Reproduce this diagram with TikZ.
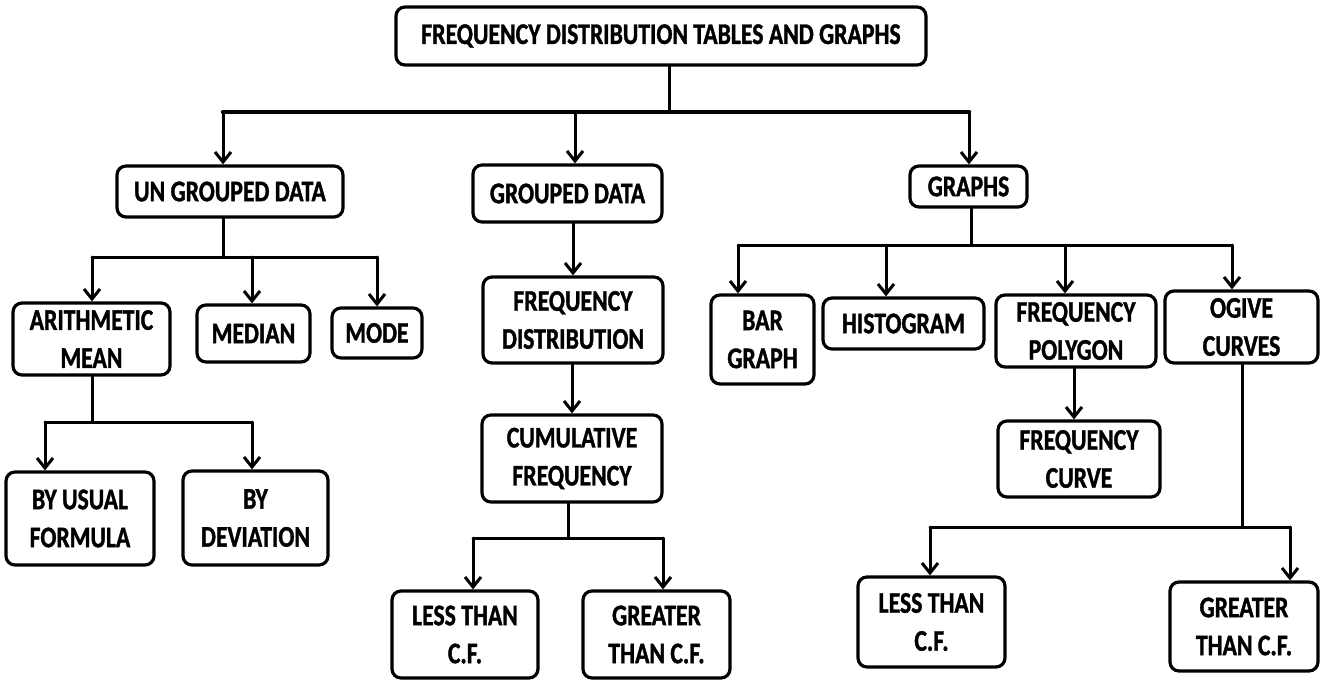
\documentclass[tikz,border=0pt]{standalone}
\usepackage{fontspec}
\newfontfamily\lblfont{Carlito Bold}[FakeStretch=0.79, FakeBold=1.2]
\usetikzlibrary{arrows.meta}
\begin{document}
\begin{tikzpicture}[x=1pt,y=-1pt,
  box/.style={draw=black, line width=3.2pt, rounded corners=9pt, inner sep=0pt,
    align=center, font=\lblfont\fontsize{30}{38}\selectfont},
  link/.style={line width=3pt, line cap=round},
  arr/.style={link, -{Straight Barb[length=10pt,width=16pt]}}]
\useasboundingbox (0,0) rectangle (1323,681);

% boxes
\node[box, minimum width=530pt, minimum height=58pt] (title) at (661,36) {FREQUENCY DISTRIBUTION TABLES AND GRAPHS};
\node[box, minimum width=226pt, minimum height=51pt] (ung) at (230,191.5) {UN GROUPED DATA};
\node[box, minimum width=189pt, minimum height=57pt] (gd) at (567.5,193.5) {GROUPED DATA};
\node[box, minimum width=117pt, minimum height=41pt] (gr) at (968.5,186.5) {GRAPHS};
\node[box, minimum width=157pt, minimum height=72pt] (am) at (91.5,339) {ARITHMETIC\\MEAN};
\node[box, minimum width=113pt, minimum height=57pt] (med) at (253.5,333.5) {MEDIAN};
\node[box, minimum width=90pt, minimum height=50pt] (mode) at (377,333) {MODE};
\node[box, minimum width=148pt, minimum height=93pt] (buf) at (80,518.5) {BY USUAL\\FORMULA};
\node[box, minimum width=145pt, minimum height=94pt] (bd) at (255.5,518) {BY\\DEVIATION};
\node[box, minimum width=180pt, minimum height=86pt] (fd) at (573,320) {FREQUENCY\\DISTRIBUTION};
\node[box, minimum width=180pt, minimum height=87pt] (cf) at (572,458.5) {CUMULATIVE\\FREQUENCY};
\node[box, minimum width=146pt, minimum height=87pt] (lta) at (465,634.5) {LESS THAN\\C.F.};
\node[box, minimum width=147pt, minimum height=87pt] (gta) at (656.5,634.5) {GREATER\\THAN C.F.};
\node[box, minimum width=103pt, minimum height=89pt] (bar) at (762.5,339.5) {BAR\\GRAPH};
\node[box, minimum width=161pt, minimum height=51pt] (hist) at (903.5,323.5) {HISTOGRAM};
\node[box, minimum width=160pt, minimum height=72pt] (fp) at (1076,331) {FREQUENCY\\POLYGON};
\node[box, minimum width=153pt, minimum height=72pt] (og) at (1241.5,327) {OGIVE\\CURVES};
\node[box, minimum width=162pt, minimum height=76pt] (fc) at (1079,459) {FREQUENCY\\CURVE};
\node[box, minimum width=147pt, minimum height=90pt] (ltb) at (931.5,622) {LESS THAN\\C.F.};
\node[box, minimum width=148pt, minimum height=89pt] (gtb) at (1244,626.5) {GREATER\\THAN C.F.};

% branch points
\coordinate (tj) at (669,112);
\coordinate (ta) at (223,112);
\coordinate (tb) at (575,112);
\coordinate (tc) at (969,112);
\coordinate (uj) at (223,257);
\coordinate (ua) at (92,257);
\coordinate (ub) at (252,257);
\coordinate (uc) at (377,257);
\coordinate (aj) at (92,422);
\coordinate (aa) at (45,422);
\coordinate (ab) at (252,422);
\coordinate (cj) at (568,538);
\coordinate (ca) at (473,538);
\coordinate (cb) at (663,538);
\coordinate (gj) at (971,245);
\coordinate (ga) at (738,245);
\coordinate (gb) at (886,245);
\coordinate (gc) at (1065,245);
\coordinate (gd4) at (1232,245);
\coordinate (oj) at (1242,527);
\coordinate (oa) at (930,527);
\coordinate (ob) at (1290,527);

% top level
\draw[link] (title.south -| tj) -- (tj);
\draw[link, line width=4.5pt] (ta) -- (tc);
\draw[arr] (ta) -- (ta |- ung.north);
\draw[arr] (tb) -- (tb |- gd.north);
\draw[arr] (tc) -- (tc |- gr.north);

% ungrouped data
\draw[link] (ung.south -| uj) -- (uj);
\draw[link] (ua) -- (uc);
\draw[arr] (ua) -- (ua |- am.north);
\draw[arr] (ub) -- (ub |- med.north);
\draw[arr] (uc) -- (uc |- mode.north);

% arithmetic mean
\draw[link] (am.south -| aj) -- (aj);
\draw[link] (aa) -- (ab);
\draw[arr] (aa) -- (aa |- buf.north);
\draw[arr] (ab) -- (ab |- bd.north);

% grouped data
\draw[arr] (gd.south -| 573,0) -- (fd.north -| 573,0);
\draw[arr] (fd.south -| 572,0) -- (cf.north -| 572,0);
\draw[link] (cf.south -| cj) -- (cj);
\draw[link] (ca) -- (cb);
\draw[arr] (ca) -- (ca |- lta.north);
\draw[arr] (cb) -- (cb |- gta.north);

% graphs
\draw[link] (gr.south -| gj) -- (gj);
\draw[link] (ga) -- (gd4);
\draw[arr] (ga) -- (ga |- bar.north);
\draw[arr] (gb) -- (gb |- hist.north);
\draw[arr] (gc) -- (gc |- fp.north);
\draw[arr] (gd4) -- (gd4 |- og.north);
\draw[arr] (fp.south -| 1074,0) -- (fc.north -| 1074,0);

% ogive curves
\draw[link] (og.south -| oj) -- (oj);
\draw[link] (oa) -- (ob);
\draw[arr] (oa) -- (oa |- ltb.north);
\draw[arr] (ob) -- (ob |- gtb.north);
\end{tikzpicture}
\end{document}
